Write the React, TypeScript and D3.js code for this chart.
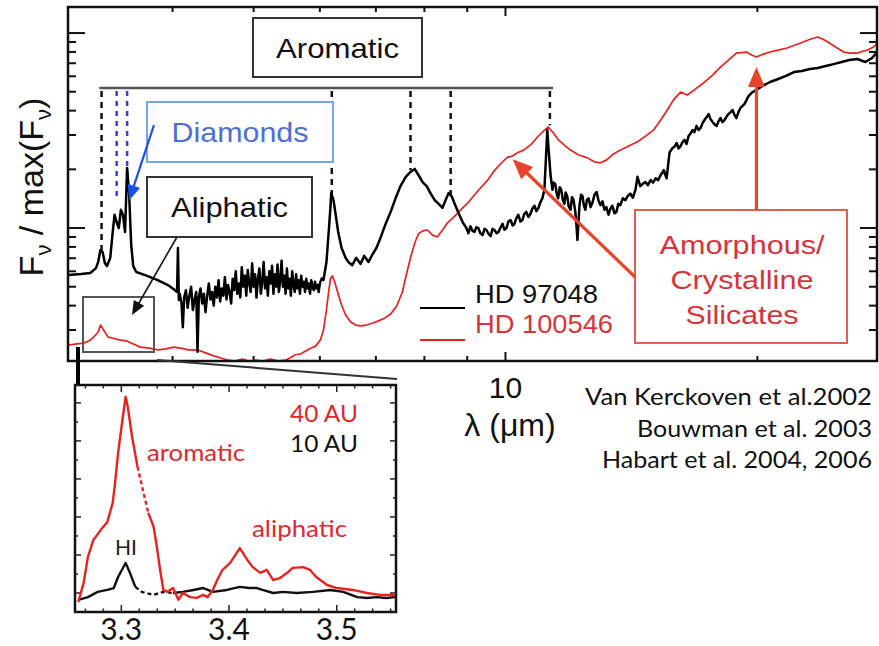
import React, { useEffect, useRef } from 'react';
import * as d3 from 'd3';

const WIDTH = 879;
const HEIGHT = 646;

// HD 97048 : [wavelength (micron), F / max(F)]
const hd97048: [number, number][] = [
  [3.006, 0.0574], [3.11, 0.0581], [3.19, 0.0588], [3.24, 0.0623], [3.26, 0.067], [3.28, 0.0771],
  [3.3, 0.0753], [3.32, 0.0662], [3.34, 0.0638], [3.37, 0.0704], [3.39, 0.092], [3.41, 0.117],
  [3.43, 0.107], [3.45, 0.1], [3.47, 0.124], [3.49, 0.117], [3.51, 0.0954], [3.53, 0.203],
  [3.55, 0.148], [3.57, 0.0818], [3.59, 0.0638], [3.62, 0.0595], [3.73, 0.0568], [3.84, 0.0541],
  [3.95, 0.051], [4.01, 0.0487], [4.05, 0.047], [4.06, 0.0789], [4.07, 0.0427],
  [4.08, 0.046], [4.1, 0.041], [4.115, 0.031], [4.13, 0.044], [4.15, 0.048], [4.17, 0.039],
  [4.19, 0.045], [4.21, 0.05], [4.23, 0.038], [4.25, 0.043], [4.27, 0.047], [4.285, 0.0232],
  [4.3, 0.044], [4.32, 0.049], [4.34, 0.041], [4.36, 0.046], [4.38, 0.037], [4.4, 0.045],
  [4.42, 0.052], [4.44, 0.043], [4.46, 0.047], [4.48, 0.04], [4.5, 0.05], [4.52, 0.044],
  [4.54, 0.054], [4.56, 0.042], [4.58, 0.049], [4.6, 0.045], [4.62, 0.056], [4.64, 0.043],
  [4.66, 0.051], [4.68, 0.047], [4.7, 0.041], [4.72, 0.055], [4.74, 0.048], [4.76, 0.06],
  [4.78, 0.046], [4.8, 0.052], [4.82, 0.044], [4.84, 0.063], [4.86, 0.05], [4.88, 0.057],
  [4.9, 0.045], [4.92, 0.061], [4.94, 0.052], [4.96, 0.047], [4.98, 0.066], [5.0, 0.05],
  [5.02, 0.058], [5.04, 0.044], [5.06, 0.055], [5.08, 0.062], [5.1, 0.046], [5.12, 0.053],
  [5.14, 0.067], [5.16, 0.049], [5.18, 0.056], [5.2, 0.045], [5.22, 0.06], [5.24, 0.052],
  [5.26, 0.064], [5.28, 0.046], [5.3, 0.058], [5.32, 0.05], [5.34, 0.065], [5.36, 0.047],
  [5.38, 0.054], [5.4, 0.068], [5.42, 0.05], [5.44, 0.057], [5.46, 0.046], [5.48, 0.062],
  [5.5, 0.049], [5.52, 0.055], [5.54, 0.045], [5.56, 0.06], [5.58, 0.051], [5.6, 0.047],
  [5.62, 0.058], [5.64, 0.049], [5.66, 0.054], [5.68, 0.046], [5.7, 0.057], [5.72, 0.05],
  [5.74, 0.053], [5.76, 0.047], [5.78, 0.055], [5.8, 0.049], [5.82, 0.052], [5.84, 0.046],
  [5.86, 0.054], [5.88, 0.05], [5.9, 0.048], [5.92, 0.053], [5.94, 0.049], [5.96, 0.051],
  [5.98, 0.047], [6.0, 0.052], [6.03, 0.055],
  [6.06, 0.0541], [6.11, 0.067], [6.15, 0.0977], [6.18, 0.131], [6.19, 0.151], [6.23, 0.139],
  [6.26, 0.121], [6.31, 0.0954], [6.37, 0.079], [6.44, 0.0704], [6.49, 0.067], [6.56, 0.0644],
  [6.63, 0.0704], [6.71, 0.0655], [6.78, 0.072], [6.86, 0.067], [6.93, 0.0728], [7.01, 0.079],
  [7.09, 0.089], [7.19, 0.105], [7.29, 0.121], [7.39, 0.142], [7.49, 0.164], [7.6, 0.183],
  [7.7, 0.194], [7.79, 0.201], [7.87, 0.187], [7.96, 0.172], [8.05, 0.164], [8.14, 0.15],
  [8.23, 0.139], [8.32, 0.133], [8.41, 0.127], [8.48, 0.139], [8.55, 0.151], [8.62, 0.146],
  [8.69, 0.134], [8.79, 0.119], [8.89, 0.107], [8.98, 0.1], [9.03, 0.094], [9.08, 0.102],
  [9.13, 0.097], [9.18, 0.0954], [9.23, 0.101], [9.28, 0.1], [9.33, 0.094], [9.39, 0.092],
  [9.44, 0.099], [9.49, 0.0977], [9.55, 0.093], [9.6, 0.0909], [9.65, 0.099], [9.7, 0.0977],
  [9.76, 0.094], [9.81, 0.0954], [9.87, 0.101], [9.92, 0.105], [9.97, 0.098], [10.03, 0.1],
  [10.08, 0.108], [10.14, 0.11], [10.2, 0.103], [10.25, 0.105], [10.3, 0.112], [10.36, 0.117],
  [10.42, 0.108], [10.48, 0.11], [10.53, 0.118], [10.59, 0.121], [10.65, 0.114], [10.71, 0.118],
  [10.77, 0.126], [10.83, 0.13], [10.89, 0.122], [10.95, 0.127], [11.01, 0.136], [11.07, 0.142],
  [11.13, 0.157], [11.19, 0.251], [11.22, 0.318], [11.25, 0.267], [11.32, 0.187], [11.38, 0.157],
  [11.42, 0.171], [11.47, 0.168], [11.51, 0.151], [11.56, 0.142], [11.61, 0.162], [11.66, 0.157],
  [11.71, 0.139], [11.76, 0.133], [11.8, 0.152], [11.85, 0.146], [11.9, 0.129], [11.96, 0.124],
  [12.01, 0.144], [12.06, 0.139], [12.12, 0.121], [12.16, 0.102], [12.19, 0.0868], [12.26, 0.131],
  [12.31, 0.148], [12.36, 0.146], [12.41, 0.13], [12.46, 0.124], [12.51, 0.139], [12.57, 0.142],
  [12.64, 0.128], [12.71, 0.136], [12.78, 0.149], [12.85, 0.153], [12.92, 0.138], [12.99, 0.131],
  [13.06, 0.137], [13.13, 0.124], [13.2, 0.128], [13.28, 0.117], [13.35, 0.126], [13.42, 0.13],
  [13.5, 0.119], [13.57, 0.121], [13.64, 0.133], [13.72, 0.131], [13.81, 0.142], [13.91, 0.139],
  [14.0, 0.146], [14.1, 0.15], [14.2, 0.143], [14.3, 0.157], [14.38, 0.183], [14.49, 0.164],
  [14.6, 0.169], [14.7, 0.172], [14.8, 0.166], [14.91, 0.176], [15.01, 0.171], [15.12, 0.18],
  [15.22, 0.176], [15.33, 0.187], [15.46, 0.198], [15.58, 0.18], [15.71, 0.245], [15.84, 0.257],
  [15.93, 0.262], [16.02, 0.273], [16.1, 0.256], [16.19, 0.263], [16.28, 0.276], [16.37, 0.283],
  [16.46, 0.27], [16.55, 0.296], [16.64, 0.305], [16.73, 0.318], [16.82, 0.31], [16.92, 0.334],
  [17.01, 0.318], [17.11, 0.326], [17.2, 0.345], [17.29, 0.358], [17.39, 0.37], [17.49, 0.384],
  [17.58, 0.362], [17.68, 0.35], [17.78, 0.34], [17.88, 0.334], [17.97, 0.352], [18.07, 0.366],
  [18.17, 0.349], [18.27, 0.358], [18.37, 0.372], [18.47, 0.384], [18.57, 0.392], [18.68, 0.403],
  [18.78, 0.381], [18.88, 0.366], [18.98, 0.392], [19.09, 0.413], [19.3, 0.432], [19.52, 0.475],
  [19.73, 0.498], [19.95, 0.51], [20.28, 0.535], [20.72, 0.561], [21.18, 0.581], [21.64, 0.603],
  [22.12, 0.631], [22.61, 0.639], [23.11, 0.654], [23.62, 0.662], [24.14, 0.677], [24.67, 0.693],
  [25.22, 0.71], [25.77, 0.727], [26.34, 0.736], [26.93, 0.71], [27.41, 0.744], [27.83, 0.799],
];

// HD 100546 : [wavelength (micron), F / max(F)]
const hd100546: [number, number][] = [
  [3.0, 0.0251], [3.06, 0.0254], [3.13, 0.0257], [3.18, 0.0264], [3.22, 0.0276], [3.26, 0.0293],
  [3.28, 0.0318], [3.32, 0.0293], [3.35, 0.0276], [3.39, 0.0273], [3.45, 0.0267], [3.52, 0.0264],
  [3.59, 0.0254], [3.66, 0.0245], [3.75, 0.0242], [3.84, 0.0237], [3.93, 0.024], [4.01, 0.0245],
  [4.09, 0.0242], [4.18, 0.0237], [4.29, 0.0237], [4.38, 0.0229], [4.48, 0.0221], [4.56, 0.0216],
  [4.66, 0.021], [4.75, 0.0208], [4.85, 0.0213], [4.93, 0.0208], [5.03, 0.021], [5.13, 0.0208],
  [5.24, 0.0213], [5.35, 0.0208], [5.46, 0.021], [5.53, 0.0216], [5.61, 0.0224], [5.69, 0.0226],
  [5.77, 0.0234], [5.85, 0.0242], [5.93, 0.0248], [6.01, 0.0267], [6.06, 0.03], [6.11, 0.038],
  [6.15, 0.0481], [6.18, 0.0554], [6.21, 0.0568], [6.25, 0.0529], [6.3, 0.047], [6.37, 0.0403],
  [6.44, 0.0358], [6.53, 0.033], [6.62, 0.0318], [6.71, 0.0315], [6.82, 0.0318], [6.93, 0.0325],
  [7.04, 0.0333], [7.17, 0.0345], [7.29, 0.0362], [7.41, 0.0397], [7.53, 0.047], [7.61, 0.0574],
  [7.7, 0.0704], [7.79, 0.0838], [7.87, 0.0933], [7.96, 0.0967], [8.07, 0.0977], [8.18, 0.092],
  [8.29, 0.0899], [8.41, 0.0977], [8.52, 0.106], [8.64, 0.112], [8.76, 0.119], [8.89, 0.127],
  [9.01, 0.134], [9.16, 0.146], [9.33, 0.16], [9.52, 0.176], [9.67, 0.194], [9.86, 0.213],
  [10.06, 0.231], [10.19, 0.234], [10.33, 0.243], [10.51, 0.251], [10.71, 0.266], [10.92, 0.293],
  [11.1, 0.314], [11.25, 0.33], [11.41, 0.307], [11.57, 0.283], [11.76, 0.266], [11.96, 0.251],
  [12.23, 0.237], [12.53, 0.229], [12.78, 0.218], [12.99, 0.216], [13.2, 0.223], [13.46, 0.24],
  [13.72, 0.251], [14.02, 0.263], [14.38, 0.277], [14.7, 0.296], [15.03, 0.318], [15.33, 0.358],
  [15.61, 0.403], [15.87, 0.453], [16.19, 0.498], [16.5, 0.481], [16.86, 0.516], [17.24, 0.554],
  [17.68, 0.609], [18.07, 0.669], [18.47, 0.727], [18.88, 0.789], [19.41, 0.799], [19.68, 0.771],
  [19.95, 0.753], [20.34, 0.78], [20.72, 0.799], [21.18, 0.818], [21.7, 0.838], [22.2, 0.868],
  [22.7, 0.899], [23.17, 0.932], [23.62, 0.954], [23.93, 0.932], [24.28, 0.899], [24.8, 0.848],
  [25.37, 0.799], [25.85, 0.789], [26.34, 0.789], [26.8, 0.809], [27.09, 0.818], [27.53, 0.848],
  [27.83, 0.889],
];

// band positions (micron) and the flux where each marker line stops
const aromaticBands: [number, number][] = [[3.29, 0.0727], [6.2, 0.148], [7.7, 0.198], [8.6, 0.148], [11.3, 0.337]];
const diamondBands: [number, number][] = [[3.43, 0.144], [3.53, 0.157]];
const aromaticBar = { from: 3.27, to: 11.4, level: 0.522 };

// inset, 3.3 micron region : [wavelength, relative flux]
const inset40AU: [number, number][] = [
  [3.26, -0.24], [3.265, 0.26], [3.269, 0.95], [3.274, 1.39], [3.281, 1.66], [3.287, 1.87],
  [3.292, 2.37], [3.294, 2.84], [3.297, 3.68], [3.301, 4.55], [3.304, 5.16], [3.306, 4.89],
  [3.31, 4.11], [3.315, 3.32], [3.32, 2.71], [3.325, 2.11], [3.33, 1.74], [3.333, 1.21],
  [3.336, 0.61], [3.339, 0.08], [3.343, 0.03], [3.348, 0.13], [3.353, -0.18], [3.357, 0.0],
  [3.364, -0.11], [3.37, -0.13], [3.376, -0.05], [3.38, -0.11], [3.385, 0.08], [3.389, 0.34],
  [3.394, 0.61], [3.401, 0.79], [3.407, 1.05], [3.41, 1.18], [3.417, 0.87], [3.422, 0.68],
  [3.429, 0.53], [3.435, 0.61], [3.441, 0.34], [3.447, 0.39], [3.454, 0.53], [3.459, 0.66],
  [3.469, 0.68], [3.475, 0.61], [3.481, 0.42], [3.491, 0.21], [3.5, 0.13], [3.515, 0.08],
  [3.528, 0.0], [3.54, -0.05], [3.554, -0.05],
];
const inset10AU: [number, number][] = [
  [3.26, -0.18], [3.269, -0.11], [3.278, 0.03], [3.287, 0.08], [3.293, 0.13], [3.297, 0.42],
  [3.304, 0.79], [3.308, 0.53], [3.313, 0.16], [3.319, 0.03], [3.33, -0.05], [3.339, 0.03],
  [3.348, 0.0], [3.357, 0.03], [3.367, 0.08], [3.376, 0.13], [3.385, 0.03], [3.398, 0.08],
  [3.41, 0.16], [3.419, 0.13], [3.426, 0.13], [3.431, 0.08], [3.441, 0.0], [3.45, 0.03],
  [3.463, 0.0], [3.478, 0.03], [3.494, 0.08], [3.506, 0.03], [3.519, -0.11], [3.528, -0.13],
  [3.537, -0.11], [3.546, -0.13], [3.554, -0.11],
];
const gap40AU: [number, number] = [3.315, 3.325];
const gap10AU: [number, number] = [3.313, 3.348];
const insetTicks = [3.3, 3.4, 3.5];

const citations = ['Van Kerckoven et al.2002', 'Bouwman et al. 2003', 'Habart et al. 2004, 2006'];

const SANS = "'Liberation Sans', Arial, Helvetica, sans-serif";
const CAL = "Lato, 'Open Sans', sans-serif";
const RED = '#e8221f';

const App = () => {
  const ref = useRef<SVGSVGElement | null>(null);

  useEffect(() => {
    const svg = d3.select(ref.current);
    svg.selectAll('*').remove();
    svg.append('rect').attr('width', WIDTH).attr('height', HEIGHT).attr('fill', '#fff');

    const x = d3.scaleLog().domain([3.0, 27.8]).range([68, 877]);
    const y = d3.scaleLog().domain([0.0208, 1.36]).range([361, 7]);
    const [x0, x1] = x.range();
    const [y0, y1] = y.range();

    const arrow = (g, ax, ay, bx, by, color, w, hl, hw) => {
      const a = Math.atan2(by - ay, bx - ax);
      const cx = bx - hl * Math.cos(a);
      const cy = by - hl * Math.sin(a);
      g.append('line').attr('x1', ax).attr('y1', ay)
        .attr('x2', cx + Math.cos(a)).attr('y2', cy + Math.sin(a))
        .attr('stroke', color).attr('stroke-width', w);
      const px = (-Math.sin(a) * hw) / 2;
      const py = (Math.cos(a) * hw) / 2;
      g.append('path').attr('d', `M${bx},${by}L${cx + px},${cy + py}L${cx - px},${cy - py}Z`).attr('fill', color);
    };

    // ---- main panel ----
    const main = svg.append('g');

    // inward ticks
    const yMajor = [0.1, 1];
    const yMinor = [0.03, 0.04, 0.05, 0.06, 0.07, 0.08, 0.09, 0.2, 0.3, 0.4, 0.5, 0.6, 0.7, 0.8, 0.9];
    const xMinor = [4, 5, 6, 7, 8, 9, 20];
    const tk = main.append('g').attr('stroke', '#111').attr('stroke-width', 2);
    yMajor.concat(yMinor).forEach((v) => {
      const len = yMajor.includes(v) ? 17 : 8;
      tk.append('line').attr('x1', x0).attr('x2', x0 + len).attr('y1', y(v)).attr('y2', y(v));
      tk.append('line').attr('x1', x1).attr('x2', x1 - len).attr('y1', y(v)).attr('y2', y(v));
    });
    [10].concat(xMinor).forEach((v) => {
      const len = v === 10 ? 9 : 5;
      tk.append('line').attr('x1', x(v)).attr('x2', x(v)).attr('y1', y0).attr('y2', y0 - len);
      tk.append('line').attr('x1', x(v)).attr('x2', x(v)).attr('y1', y1).attr('y2', y1 + len);
    });

    // band markers
    main.append('line')
      .attr('x1', x(aromaticBar.from)).attr('x2', x(aromaticBar.to))
      .attr('y1', y(aromaticBar.level)).attr('y2', y(aromaticBar.level))
      .attr('stroke', '#555').attr('stroke-width', 2.5);
    aromaticBands.forEach(([w, f]) => {
      main.append('line').attr('x1', x(w)).attr('x2', x(w))
        .attr('y1', y(aromaticBar.level) + 3).attr('y2', y(f))
        .attr('stroke', '#111').attr('stroke-width', 2.5).attr('stroke-dasharray', '6,5');
    });
    diamondBands.forEach(([w, f]) => {
      main.append('line').attr('x1', x(w)).attr('x2', x(w))
        .attr('y1', y(aromaticBar.level) + 3).attr('y2', y(f))
        .attr('stroke', '#3a3fd8').attr('stroke-width', 2.5).attr('stroke-dasharray', '5,5');
    });

    const line = d3.line<[number, number]>().x((d) => x(d[0])).y((d) => y(d[1]));
    main.append('path').datum(hd100546).attr('d', line).attr('fill', 'none')
      .attr('stroke', RED).attr('stroke-width', 1.7).attr('stroke-linejoin', 'round');
    main.append('path').datum(hd97048).attr('d', line).attr('fill', 'none')
      .attr('stroke', '#000').attr('stroke-width', 2.5).attr('stroke-linejoin', 'round');

    // frame
    main.append('rect').attr('x', x0).attr('y', y1).attr('width', x1 - x0).attr('height', y0 - y1)
      .attr('fill', 'none').attr('stroke', '#111').attr('stroke-width', 2.5);

    // annotation boxes
    const box = (bx, by, bw, bh, stroke, label, color, size, tl) => {
      main.append('rect').attr('x', bx).attr('y', by).attr('width', bw).attr('height', bh)
        .attr('fill', '#fff').attr('stroke', stroke).attr('stroke-width', 2);
      main.append('text').attr('x', bx + bw / 2).attr('y', by + bh / 2 + size * 0.36)
        .attr('text-anchor', 'middle').attr('font-family', SANS).attr('font-size', size)
        .attr('fill', color).attr('textLength', tl).attr('lengthAdjust', 'spacingAndGlyphs')
        .text(label);
    };
    box(253, 18, 169, 59, '#333', 'Aromatic', '#111', 28, 123);
    box(147, 102, 186, 60, '#78a6ee', 'Diamonds', '#4f6fd8', 28, 137);
    box(147, 177, 165, 60, '#333', 'Aliphatic', '#111', 28, 117);

    // zoom box for the inset
    main.append('rect').attr('x', 83).attr('y', 297).attr('width', 71).attr('height', 55)
      .attr('fill', 'none').attr('stroke', '#555').attr('stroke-width', 2);

    arrow(main, 154, 125, x(3.55), y(0.139), '#1d4fe8', 2.2, 15, 13);
    arrow(main, 177, 237, 132, 315, '#111', 1.6, 14, 12);

    // silicates
    main.append('rect').attr('x', 635).attr('y', 210).attr('width', 212).attr('height', 133)
      .attr('fill', '#fff').attr('stroke', '#e0604c').attr('stroke-width', 2);
    [['Amorphous/', 165], ['Crystalline', 143], ['Silicates', 113]].forEach(([t, tl], i) => {
      main.append('text').attr('x', 742).attr('y', 254 + i * 35).attr('text-anchor', 'middle')
        .attr('font-family', SANS).attr('font-size', 26).attr('fill', '#d8333a')
        .attr('textLength', tl).attr('lengthAdjust', 'spacingAndGlyphs').text(t as string);
    });
    arrow(main, 635, 277, x(10.2), y(0.225), '#e8442a', 3.2, 20, 17);
    arrow(main, x(19.95), 210, x(19.95), y(0.67), '#e8442a', 3.2, 20, 17);

    // legend
    const legend = [['HD 97048', '#000', 308, 303, 123], ['HD 100546', RED, 340, 333, 138]];
    legend.forEach(([t, c, ly, ty, tl]) => {
      main.append('line').attr('x1', 420).attr('x2', 465).attr('y1', ly).attr('y2', ly)
        .attr('stroke', c).attr('stroke-width', 2);
      main.append('text').attr('x', 475).attr('y', ty).attr('font-family', SANS).attr('font-size', 25)
        .attr('fill', c === '#000' ? '#111' : '#d8333a')
        .attr('textLength', tl).attr('lengthAdjust', 'spacingAndGlyphs').text(t as string);
    });

    // axis labels
    main.append('text').attr('x', x(10)).attr('y', 398).attr('text-anchor', 'middle')
      .attr('font-family', SANS).attr('font-size', 30).attr('fill', '#111').text('10');
    main.append('text').attr('x', 510).attr('y', 436).attr('text-anchor', 'middle')
      .attr('font-family', SANS).attr('font-size', 32).attr('fill', '#111').text('λ (μm)');
    const yl = main.append('text').attr('transform', 'translate(43,187) rotate(-90)')
      .attr('text-anchor', 'middle').attr('font-family', SANS).attr('font-size', 34).attr('fill', '#111');
    yl.append('tspan').text('F');
    yl.append('tspan').attr('dy', 8).attr('font-size', 22).text('ν');
    yl.append('tspan').attr('dy', -8).text(' / max(F');
    yl.append('tspan').attr('dy', 8).attr('font-size', 22).text('ν');
    yl.append('tspan').attr('dy', -8).text(')');

    // citations
    const citeLen = [287, 235, 270];
    citations.forEach((t, i) => {
      svg.append('text').attr('x', 872).attr('y', 405 + i * 31.5).attr('text-anchor', 'end')
        .attr('font-family', CAL).attr('font-size', 24).attr('fill', '#111')
        .attr('textLength', citeLen[i]).attr('lengthAdjust', 'spacingAndGlyphs').text(t);
    });

    // ---- inset ----
    const xi = d3.scaleLinear().domain([3.257, 3.555]).range([75, 396]);
    const yi = d3.scaleLinear().domain([-0.5, 5.47]).range([612, 385]);
    const [ix0, ix1] = xi.range();
    const [iy0, iy1] = yi.range();
    const inset = svg.append('g');

    // connector to the zoom box
    inset.append('line').attr('x1', 157).attr('y1', 360).attr('x2', 397).attr('y2', 379)
      .attr('stroke', '#333').attr('stroke-width', 2);
    inset.append('line').attr('x1', 78).attr('y1', 347).attr('x2', 78).attr('y2', 390)
      .attr('stroke', '#000').attr('stroke-width', 4);

    inset.append('rect').attr('x', ix0).attr('y', iy1).attr('width', ix1 - ix0).attr('height', iy0 - iy1)
      .attr('fill', '#fff').attr('stroke', '#111').attr('stroke-width', 2.5);

    const itk = inset.append('g').attr('stroke', '#222').attr('stroke-width', 1.5);
    d3.range(-0.5, 5.01, 0.5).forEach((v) => {
      const len = Math.abs(v - Math.round(v)) < 0.01 ? 6 : 3;
      itk.append('line').attr('x1', ix0).attr('x2', ix0 + len).attr('y1', yi(v)).attr('y2', yi(v));
      itk.append('line').attr('x1', ix1).attr('x2', ix1 - len).attr('y1', yi(v)).attr('y2', yi(v));
    });
    d3.range(-2, 16).forEach((k) => {
      const v = 3.3 + k / 60;
      if (v <= 3.258 || v >= 3.554) return;
      const len = k % 6 === 0 ? 7 : 3.5;
      itk.append('line').attr('x1', xi(v)).attr('x2', xi(v)).attr('y1', iy0).attr('y2', iy0 - len);
      itk.append('line').attr('x1', xi(v)).attr('x2', xi(v)).attr('y1', iy1).attr('y2', iy1 + len);
    });
    insetTicks.forEach((v) => {
      inset.append('text').attr('x', xi(v)).attr('y', 640).attr('text-anchor', 'middle')
        .attr('font-family', CAL).attr('font-size', 30).attr('fill', '#111').text(v.toFixed(1));
    });

    const drawInset = (data, gap, color) => {
      const solid = d3.line<[number, number]>()
        .defined((d) => d[0] <= gap[0] || d[0] >= gap[1])
        .x((d) => xi(d[0])).y((d) => yi(d[1]));
      inset.append('path').datum(data).attr('d', solid).attr('fill', 'none')
        .attr('stroke', color).attr('stroke-width', 2.4).attr('stroke-linejoin', 'round');
      const mid = data.filter((d) => d[0] >= gap[0] && d[0] <= gap[1]);
      inset.append('path').datum(mid)
        .attr('d', d3.line<[number, number]>().x((d) => xi(d[0])).y((d) => yi(d[1])))
        .attr('fill', 'none').attr('stroke', color).attr('stroke-width', 2.4).attr('stroke-dasharray', '4,3');
    };
    drawInset(inset10AU, gap10AU, '#111');
    drawInset(inset40AU, gap40AU, RED);

    const itext = (t, tx, ty, color, size, tl) => {
      inset.append('text').attr('x', tx).attr('y', ty).attr('font-family', CAL).attr('font-size', size)
        .attr('fill', color).attr('textLength', tl).attr('lengthAdjust', 'spacingAndGlyphs').text(t);
    };
    itext('40 AU', 290, 422, '#e0282e', 24, 68);
    itext('10 AU', 290, 452, '#111', 24, 68);
    itext('aromatic', 147, 461, '#e0282e', 23, 98);
    itext('HI', 115, 555, '#222', 21, 22);
    itext('aliphatic', 252, 537, '#e0282e', 23, 95);
  }, []);

  return (
    <svg
      ref={ref}
      width={WIDTH}
      height={HEIGHT}
      style={{ position: 'absolute', left: 0, top: 0, display: 'block' }}
    />
  );
};

export default App;
